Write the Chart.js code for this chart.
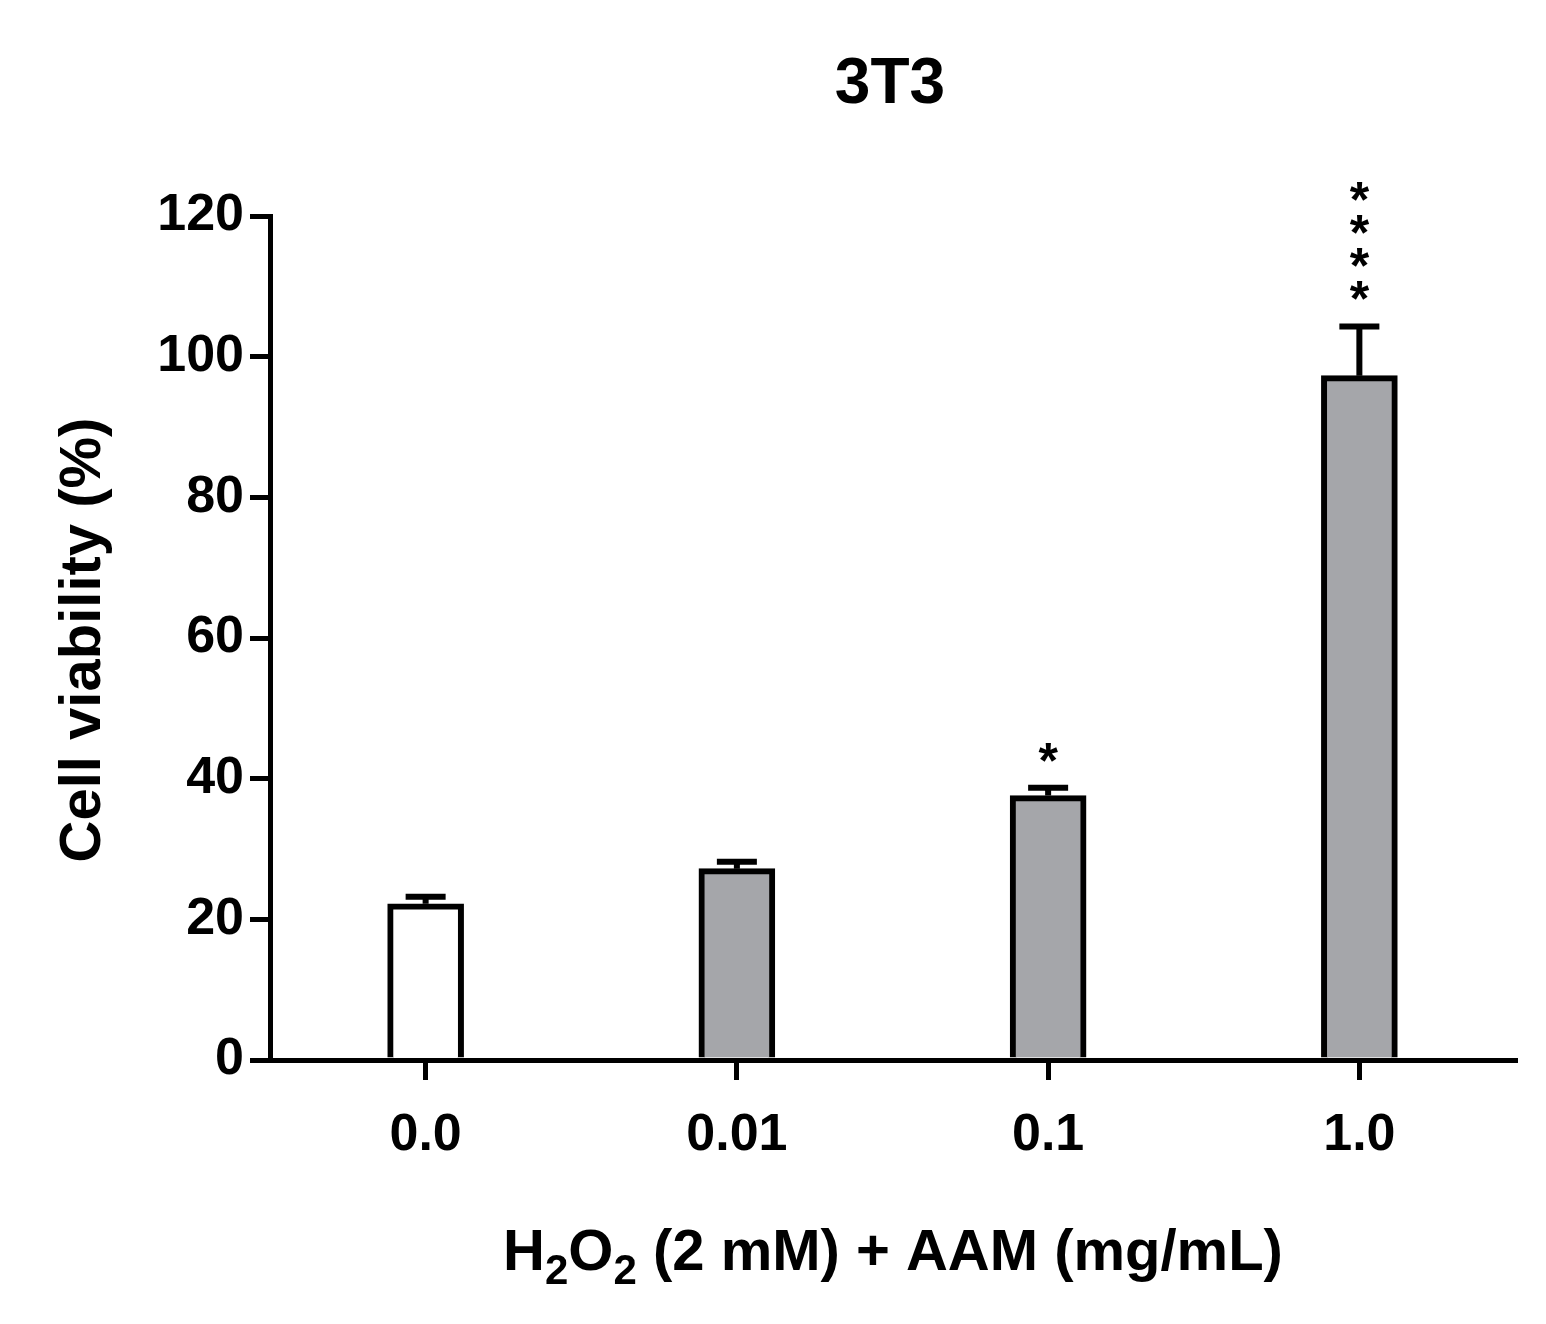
<!DOCTYPE html>
<html>
<head>
<meta charset="utf-8">
<script src="https://cdn.jsdelivr.net/npm/chart.js@4"></script>
<style>
  body { margin: 0; background: #fff; }
  #wrap { width: 1546px; height: 1324px; }
</style>
</head>
<body>
<div id="wrap"><canvas id="c" width="1546" height="1324"></canvas></div>
<script>
const categories = ['0.0', '0.01', '0.1', '1.0'];
const viability = [22.2, 27.2, 37.6, 97.3];
const errorUp = [1.0, 1.0, 1.1, 7.0];
const stars = ['', '', '*', '****'];
const yTicks = [0, 20, 40, 60, 80, 100, 120];

const FONT = '"Liberation Sans", Arial, sans-serif';

// error bars (upper only), asterisks, titles
const extras = {
  id: 'extras',
  afterDatasetsDraw(chart) {
    const ctx = chart.ctx;
    const x = chart.scales.x, y = chart.scales.y;
    ctx.save();
    ctx.strokeStyle = '#000';
    ctx.lineWidth = 6;
    viability.forEach((v, i) => {
      const cx = x.getPixelForValue(i);
      const top = y.getPixelForValue(v + errorUp[i]);
      ctx.beginPath();
      ctx.moveTo(cx, y.getPixelForValue(v));
      ctx.lineTo(cx, top);
      ctx.moveTo(cx - 20, top);
      ctx.lineTo(cx + 20, top);
      ctx.stroke();
    });
    ctx.fillStyle = '#000';
    ctx.font = 'bold 50px ' + FONT;
    ctx.textAlign = 'center';
    ctx.textBaseline = 'middle';
    stars.forEach((s, i) => {
      const cx = x.getPixelForValue(i);
      const base = y.getPixelForValue(viability[i] + errorUp[i]) - 30;
      for (let k = 0; k < s.length; k++) {
        ctx.fillText('*', cx, base - k * 33 + 6);
      }
    });
    // title
    ctx.font = 'bold 64px ' + FONT;
    ctx.fillText('3T3', 890, 85);
    // y title
    ctx.save();
    ctx.translate(84, 640);
    ctx.rotate(-Math.PI / 2);
    ctx.font = 'bold 58px ' + FONT;
    ctx.fillText('Cell viability (%)', 0, 0);
    ctx.restore();
    // x title with subscripts
    const parts = [['H', 0], ['2', 1], ['O', 0], ['2', 1], [' (2 mM) + AAM (mg/mL)', 0]];
    const big = 'bold 58px ' + FONT, small = 'bold 42px ' + FONT;
    let w = 0;
    parts.forEach(p => { ctx.font = p[1] ? small : big; w += ctx.measureText(p[0]).width; });
    let px = 893 - w / 2;
    ctx.textAlign = 'left';
    ctx.textBaseline = 'alphabetic';
    parts.forEach(p => {
      ctx.font = p[1] ? small : big;
      ctx.fillText(p[0], px, p[1] ? 1284 : 1270);
      px += ctx.measureText(p[0]).width;
    });
    ctx.restore();
  }
};

new Chart(document.getElementById('c'), {
  type: 'bar',
  data: {
    labels: categories,
    datasets: [{
      data: viability,
      backgroundColor: ['#ffffff', '#a5a6aa', '#a5a6aa', '#a5a6aa'],
      borderColor: '#000',
      borderWidth: 6,
      borderSkipped: 'start',
      barThickness: 76
    }]
  },
  options: {
    responsive: false,
    animation: false,
    devicePixelRatio: 1,
    layout: { padding: { left: 0, top: 216, right: 31, bottom: 0 } },
    plugins: { legend: { display: false }, tooltip: { enabled: false } },
    scales: {
      x: {
        grid: { display: true, offset: false, drawOnChartArea: false, tickLength: 20, lineWidth: 5, color: '#000' },
        border: { display: true, width: 5, color: '#000' },
        ticks: { color: '#000', padding: 24, font: { family: FONT, size: 52, weight: 'bold' } },
        afterFit(s) { s.height = 264; }
      },
      y: {
        min: 0, max: 120,
        afterBuildTicks(s) { s.ticks = yTicks.map(v => ({ value: v })); },
        grid: { display: true, drawOnChartArea: false, tickLength: 20, lineWidth: 5, color: '#000' },
        border: { display: true, width: 5, color: '#000' },
        ticks: { color: '#000', padding: 6, font: { family: FONT, size: 52, weight: 'bold' } },
        afterFit(s) { s.width = 270; }
      }
    }
  },
  plugins: [extras]
});
</script>
</body>
</html>
